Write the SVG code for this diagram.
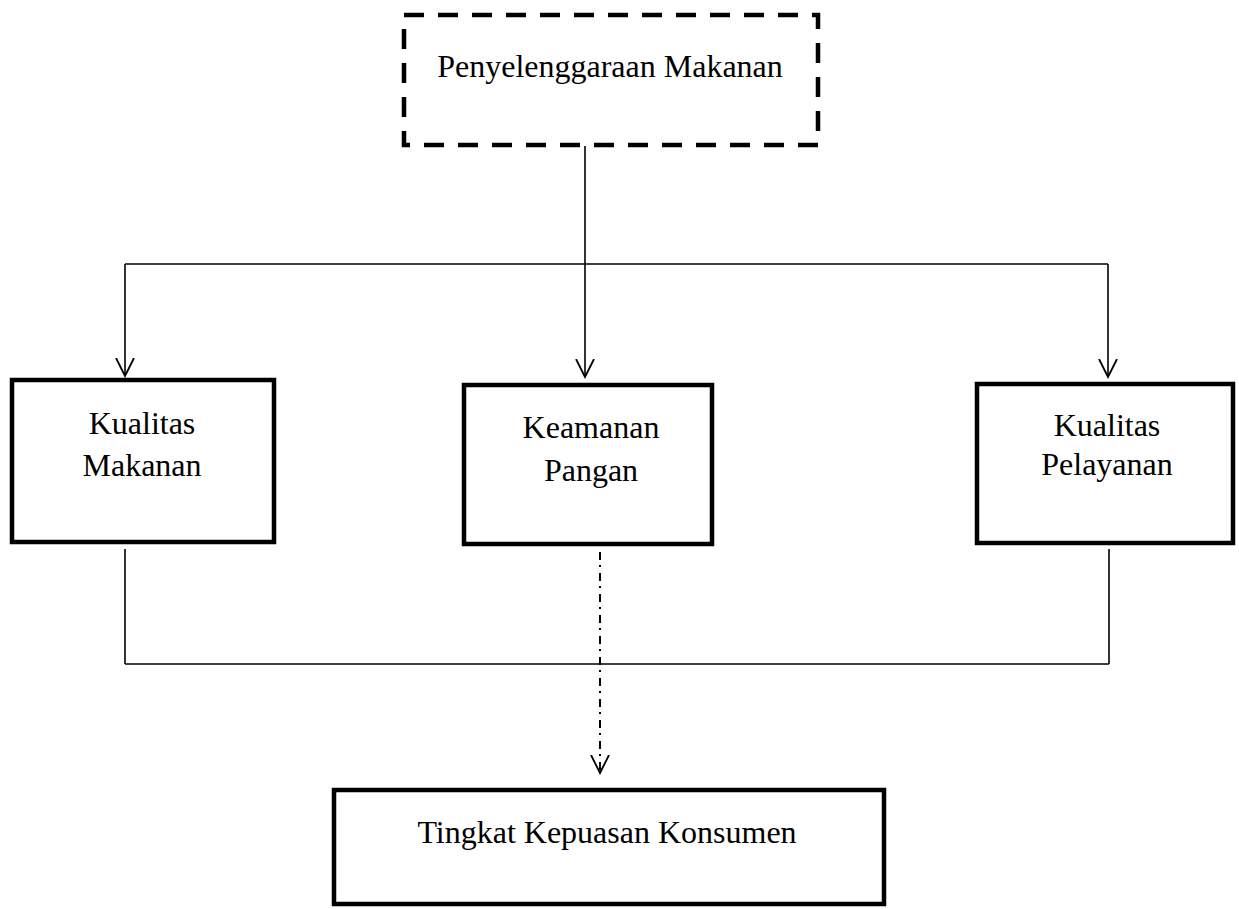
<svg xmlns="http://www.w3.org/2000/svg" width="1239" height="909" viewBox="0 0 1239 909">
<style>
.box{fill:#fff;stroke:#000;stroke-width:4.5}
.dbox{fill:#fff;stroke:#000;stroke-width:4.5;stroke-dasharray:20 14}
.t{font-family:"Liberation Serif","Times New Roman",serif;font-size:32px;fill:#000;text-anchor:middle}
.c{fill:none;stroke:#000;stroke-width:1.6}
.dd{fill:none;stroke:#000;stroke-width:2;stroke-dasharray:8 5 2 6}
</style>
<defs>
<marker id="arr" viewBox="0 0 20 20" refX="18" refY="10" markerWidth="20" markerHeight="20" markerUnits="userSpaceOnUse" orient="auto">
<path d="M0,1 L18,10 L0,19" fill="none" stroke="#000" stroke-width="1.8"/>
</marker>
</defs>
<g id="connectors">
<line class="c" x1="585" y1="146" x2="585" y2="264"/>
<line class="c" x1="125" y1="264" x2="1108" y2="264"/>
<line class="c" x1="125" y1="264" x2="125" y2="376" marker-end="url(#arr)"/>
<line class="c" x1="585" y1="264" x2="585" y2="377" marker-end="url(#arr)"/>
<line class="c" x1="1108" y1="264" x2="1108" y2="377" marker-end="url(#arr)"/>
<line class="c" x1="125" y1="549" x2="125" y2="664"/>
<line class="c" x1="1109" y1="549" x2="1109" y2="664"/>
<line class="c" x1="125" y1="664" x2="1109" y2="664"/>
<line class="dd" x1="600" y1="552" x2="600" y2="773" marker-end="url(#arr)"/>
</g>
<g id="n-penyelenggaraan">
<rect class="dbox" x="404" y="15" width="414" height="130"/>
<text class="t" x="610" y="77">Penyelenggaraan Makanan</text>
</g>
<g id="n-kualitas-makanan">
<rect class="box" x="12" y="380" width="262" height="162"/>
<text class="t" x="142" y="434">Kualitas</text>
<text class="t" x="142" y="476">Makanan</text>
</g>
<g id="n-keamanan-pangan">
<rect class="box" x="464" y="385" width="248" height="159"/>
<text class="t" x="591" y="438">Keamanan</text>
<text class="t" x="591" y="481">Pangan</text>
</g>
<g id="n-kualitas-pelayanan">
<rect class="box" x="977" y="384" width="256" height="159"/>
<text class="t" x="1107" y="436">Kualitas</text>
<text class="t" x="1107" y="475">Pelayanan</text>
</g>
<g id="n-tingkat-kepuasan">
<rect class="box" x="334" y="790" width="550" height="114"/>
<text class="t" x="607" y="843">Tingkat Kepuasan Konsumen</text>
</g>
</svg>
